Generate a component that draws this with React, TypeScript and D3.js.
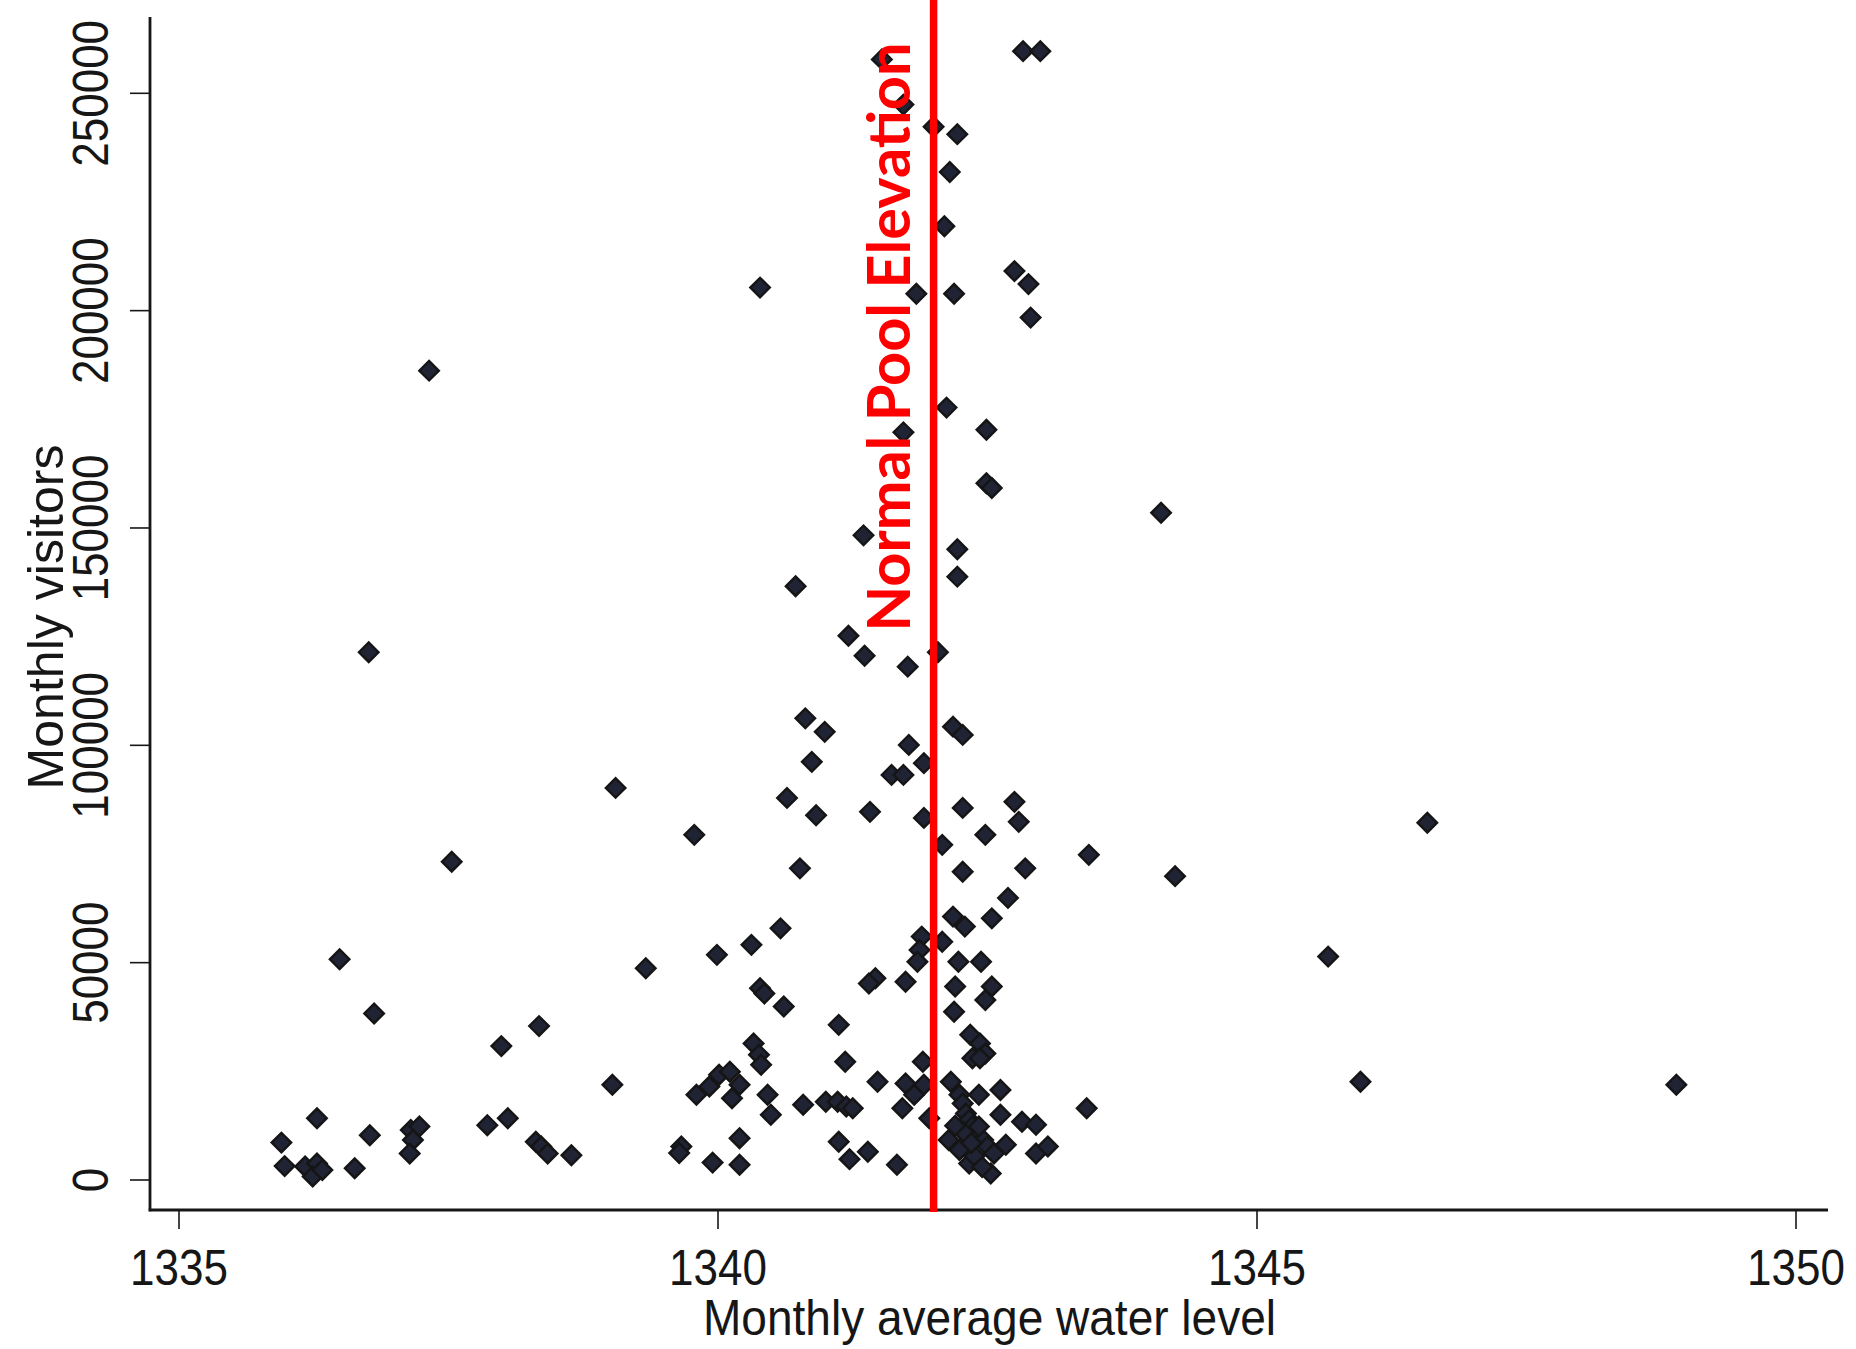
import { useEffect, useRef } from 'react'
import * as d3 from 'd3'

const W = 1856, H = 1349
// Stata-style frame: the axis lines run past the outer ticks
const LEFT = 150, RIGHT = 1828, TOP = 17, BOTTOM = 1210

const X_TICKS = [1335, 1340, 1345, 1350]
const Y_TICKS = [0, 50000, 100000, 150000, 200000, 250000]
const NORMAL_POOL = 1342

// monthly average water level (ft), one entry per month
const LEVEL = [
  1341.52, 1342.83, 1342.99, 1341.72, 1342.00, 1342.22, 1342.15, 1342.10, 1340.39, 1341.84,
  1342.19, 1342.75, 1342.88, 1342.90, 1337.32, 1341.72, 1342.12, 1342.49, 1342.49, 1342.54,
  1344.11, 1341.35, 1342.22, 1342.22, 1340.72, 1341.21, 1341.36, 1342.04, 1336.76, 1341.76,
  1340.81, 1340.99, 1340.87, 1341.77, 1341.91, 1341.61, 1341.72, 1342.18, 1342.27, 1339.05,
  1340.64, 1340.91, 1341.41, 1341.91, 1342.27, 1342.75, 1342.79, 1339.78, 1346.58, 1342.08,
  1342.48, 1337.53, 1340.76, 1342.27, 1342.85, 1343.44, 1344.24, 1342.69, 1340.58, 1342.54,
  1342.18, 1342.29, 1336.49, 1345.66, 1339.99, 1340.31, 1339.33, 1341.89, 1341.87, 1341.85,
  1342.08, 1342.23, 1342.44, 1341.46, 1341.40, 1341.74, 1340.39, 1340.43, 1342.20, 1342.54,
  1342.48, 1336.81, 1340.61, 1342.19, 1338.34, 1341.12, 1337.99, 1342.34, 1342.43, 1342.48,
  1342.36, 1342.43, 1340.33, 1340.38, 1340.40, 1341.18, 1341.90, 1339.02, 1339.80, 1339.92,
  1340.01, 1340.11, 1340.20, 1340.13, 1340.46, 1340.49, 1340.79, 1341.00, 1341.11, 1341.19,
  1341.25, 1341.48, 1341.74, 1341.82, 1341.71, 1341.91, 1341.96, 1339.66, 1339.64, 1340.20,
  1339.95, 1340.20, 1341.12, 1341.22, 1341.39, 1341.66, 1345.96, 1348.89, 1343.42, 1342.16,
  1342.24, 1342.27, 1342.30, 1342.33, 1342.36, 1342.40, 1342.46, 1342.50, 1342.56, 1342.14,
  1342.24, 1342.33, 1342.53, 1342.42, 1342.42, 1342.62, 1342.62, 1342.67, 1342.82, 1342.95,
  1342.95, 1343.06, 1336.28, 1335.95, 1335.98, 1336.17, 1336.28, 1336.24, 1336.33, 1336.63,
  1336.77, 1337.15, 1337.23, 1337.17, 1337.14, 1337.86, 1338.05, 1338.31, 1338.36, 1338.42,
  1338.64, 1342.28, 1342.38, 1342.45, 1342.20, 1342.35,
]

// monthly visitors, same order as LEVEL
const VISITORS = [
  257800, 259700, 259700, 247400, 242300, 240600, 231900, 219400, 205300, 203900,
  203900, 209100, 206100, 198400, 186200, 172000, 177700, 172600, 160300, 159200,
  153500, 148300, 145100, 138800, 136600, 125200, 120600, 121400, 121400, 118100,
  106200, 103100, 96200, 100100, 95900, 93200, 93200, 104300, 102400, 90200,
  87900, 83900, 84700, 83300, 85600, 87000, 82400, 79400, 82200, 77100,
  79400, 73200, 71700, 70900, 71700, 74800, 69900, 64900, 57900, 60200,
  60600, 58300, 50800, 51400, 51800, 54100, 48700, 56000, 52900, 50200,
  54800, 50200, 50200, 46400, 45200, 45600, 44100, 42900, 44500, 44500,
  41400, 38300, 39900, 38700, 35400, 35700, 30800, 33400, 31400, 29100,
  28000, 28000, 31400, 28800, 26500, 27200, 27200, 21900, 19600, 21500,
  24200, 24900, 21900, 18800, 19600, 15000, 17300, 18000, 18000, 16900,
  16500, 22600, 22200, 19600, 16500, 21900, 14200, 7700, 6200, 9600,
  4000, 3500, 8800, 4800, 6500, 3500, 22600, 21900, 16500, 22600,
  19600, 17600, 15300, 13800, 12300, 10400, 9200, 7700, 6100, 9200,
  6900, 3800, 1500, 12300, 19600, 20700, 15000, 8100, 13400, 12700,
  6100, 7700, 14200, 8600, 3200, 3100, 3800, 800, 2300, 2700,
  10300, 11500, 12300, 9200, 6100, 12600, 14200, 8800, 7700, 6100,
  5700, 11000, 5500, 3000, 12500, 8500,
]

const FONT = '"Liberation Sans", Arial, sans-serif'
const INK = '#161616'

export default function App() {
  const svgRef = useRef<SVGSVGElement>(null)

  useEffect(() => {
    const x = d3.scaleLinear([1335, 1350], [179, 1796])
    const y = d3.scaleLinear([0, 250000], [1180, 93.3])

    const svg = d3.select(svgRef.current)
    svg.selectAll('*').remove()
    svg.append('rect').attr('width', W).attr('height', H).attr('fill', 'white')

    // axis lines
    svg.append('line').attr('x1', LEFT).attr('x2', LEFT).attr('y1', TOP).attr('y2', BOTTOM + 1.3)
      .attr('stroke', INK).attr('stroke-width', 2.8)
    svg.append('line').attr('x1', LEFT - 1.3).attr('x2', RIGHT).attr('y1', BOTTOM).attr('y2', BOTTOM)
      .attr('stroke', INK).attr('stroke-width', 2.8)

    // x ticks + labels
    svg.selectAll('line.xt').data(X_TICKS).join('line').attr('class', 'xt')
      .attr('x1', d => x(d)).attr('x2', d => x(d)).attr('y1', BOTTOM).attr('y2', BOTTOM + 19)
      .attr('stroke', INK).attr('stroke-width', 1.6)
    svg.selectAll('text.xl').data(X_TICKS).join('text').attr('class', 'xl')
      .attr('transform', d => `translate(${x(d)},1285) scale(0.88,1)`)
      .attr('text-anchor', 'middle').attr('font-family', FONT).attr('font-size', 50).attr('fill', INK)
      .text(d => d)

    // y ticks + rotated labels
    svg.selectAll('line.yt').data(Y_TICKS).join('line').attr('class', 'yt')
      .attr('x1', LEFT - 20).attr('x2', LEFT).attr('y1', d => y(d)).attr('y2', d => y(d))
      .attr('stroke', INK).attr('stroke-width', 1.6)
    svg.selectAll('text.yl').data(Y_TICKS).join('text').attr('class', 'yl')
      .attr('transform', d => `translate(108,${y(d)}) rotate(-90) scale(0.88,1)`)
      .attr('text-anchor', 'middle').attr('font-family', FONT).attr('font-size', 50).attr('fill', INK)
      .text(d => d)

    // axis titles
    svg.append('text').attr('x', 989.5).attr('y', 1335)
      .attr('text-anchor', 'middle').attr('font-family', FONT).attr('font-size', 50).attr('fill', INK)
      .attr('textLength', 573).attr('lengthAdjust', 'spacingAndGlyphs')
      .text('Monthly average water level')
    svg.append('text').attr('transform', 'translate(63,617) rotate(-90)')
      .attr('text-anchor', 'middle').attr('font-family', FONT).attr('font-size', 50).attr('fill', INK)
      .attr('textLength', 345).attr('lengthAdjust', 'spacingAndGlyphs')
      .text('Monthly visitors')

    // markers: small diamonds, near-black with a navy core
    const pts = LEVEL.map((lv, i) => ({ lv, v: VISITORS[i] }))
    const diamond = d3.symbol(d3.symbolSquare, 190)
    svg.append('g').selectAll('path').data(pts).join('path')
      .attr('d', diamond)
      .attr('transform', d => `translate(${x(d.lv)},${y(d.v)}) rotate(45)`)
      .attr('fill', '#1f2333').attr('stroke', '#151515').attr('stroke-width', 2.4)

    // normal pool elevation reference line
    svg.append('line').attr('x1', x(NORMAL_POOL)).attr('x2', x(NORMAL_POOL)).attr('y1', 0).attr('y2', BOTTOM + 2)
      .attr('stroke', '#ff0000').attr('stroke-width', 7.5)
    svg.append('text').attr('transform', 'translate(910,337) rotate(-90)')
      .attr('text-anchor', 'middle').attr('font-family', 'Lato, "Open Sans", sans-serif')
      .attr('font-weight', 700).attr('font-size', 60).attr('fill', '#ff0000')
      .attr('textLength', 589).attr('lengthAdjust', 'spacingAndGlyphs')
      .text('Normal Pool Elevation')
  }, [])

  return (
    <svg
      ref={svgRef}
      width={W} height={H}
      viewBox={`0 0 ${W} ${H}`}
      style={{ position: 'absolute', left: 0, top: 0, display: 'block' }}
      aria-label="Monthly visitors vs monthly average water level"
    />
  )
}
